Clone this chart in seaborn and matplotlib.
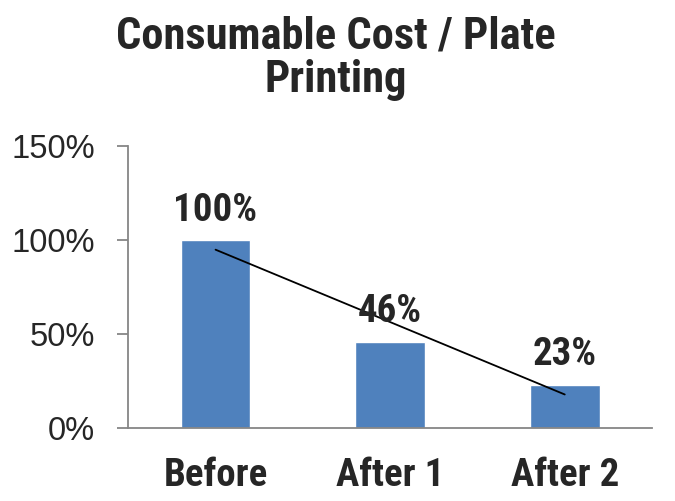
import numpy as np
import pandas as pd
import seaborn as sns
import matplotlib.pyplot as plt
from matplotlib import font_manager
from matplotlib.ticker import FixedLocator

# Dados
categorias = ["Before", "After 1", "After 2"]
valores = [100, 46, 23]
rotulos = ["100%", "46%", "23%"]
titulo = "Consumable Cost / Plate\nPrinting"

sns.set_style("white")

# fonte condensada, se houver
instaladas = {f.name for f in font_manager.fontManager.ttflist}
narrow = "Liberation Sans"
for nome in ["Liberation Sans Narrow", "DejaVu Sans Condensed", "Roboto Condensed"]:
    if nome in instaladas:
        narrow = nome
        break
plt.rcParams["font.family"] = ["Liberation Sans", "DejaVu Sans"]

df = pd.DataFrame({"cat": categorias, "val": valores, "x": np.arange(len(valores))})

fig = plt.figure(figsize=(6.75, 5.01), dpi=100)
ax = fig.add_axes([0.19, 0.1457, 0.776, 0.563])

sns.barplot(data=df, x="cat", y="val", color="#4F81BD", saturation=1, width=0.4, ax=ax)

# linha de tendência linear
sns.regplot(data=df, x="x", y="val", scatter=False, ci=None, truncate=True,
            color="black", line_kws={"linewidth": 1.3}, ax=ax)

for i, (v, r) in enumerate(zip(valores, rotulos)):
    ax.annotate(r, (i, v), xytext=(0, 14), textcoords="offset points",
                ha="center", va="baseline", fontsize=28, fontweight="bold",
                family=[narrow, "DejaVu Sans"])

ax.set_ylim(0, 150)
ax.set_xlim(-0.5, 2.5)
ax.set_yticks([0, 50, 100, 150])
ax.set_yticklabels(["0%", "50%", "100%", "150%"], fontsize=23.5)
ax.set_xlabel("")
ax.set_ylabel("")
ax.set_xticks(range(3))
ax.set_xticklabels(categorias, fontsize=28, fontweight="bold", family=[narrow, "DejaVu Sans"])
ax.xaxis.set_minor_locator(FixedLocator([-0.5, 0.5, 1.5, 2.5]))
ax.tick_params(axis="x", which="major", length=0, pad=21)
ax.tick_params(axis="x", which="minor", length=8, width=1.3, color="#868686", direction="out")
ax.tick_params(axis="y", length=8, width=1.3, color="#868686", direction="out", pad=16, left=True)

for s in ["top", "right"]:
    ax.spines[s].set_visible(False)
for s in ["left", "bottom"]:
    ax.spines[s].set_color("#868686")
    ax.spines[s].set_linewidth(1.3)

fig.text(0.498, 0.97, titulo, ha="center", va="top", fontsize=32, fontweight="bold",
         linespacing=1.05, family=[narrow, "DejaVu Sans"])

plt.savefig("out.png", dpi=100)
plt.close()
